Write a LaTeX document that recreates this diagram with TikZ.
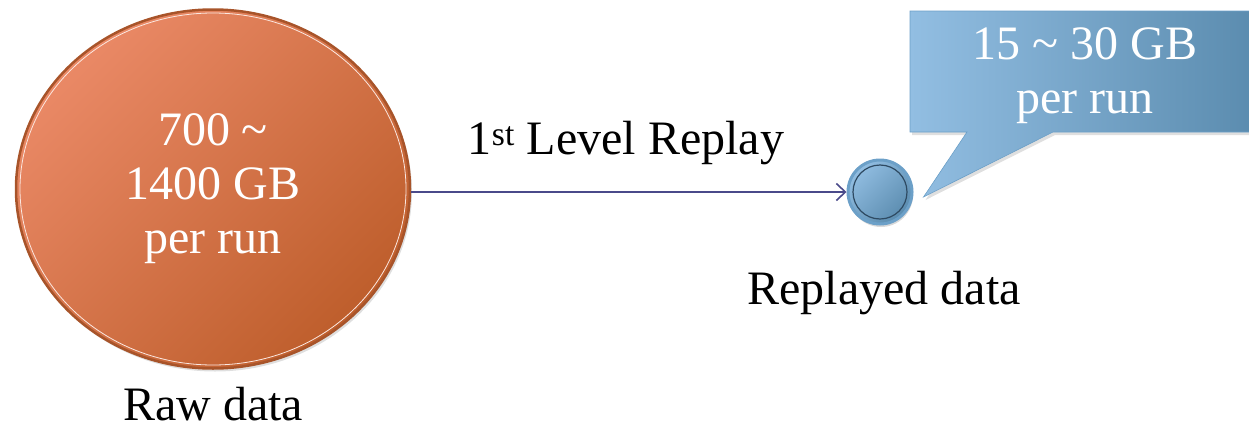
\documentclass[tikz,border=0pt]{standalone}
\usepackage{fontspec}
\setmainfont{Liberation Serif}
\usetikzlibrary{arrows.meta,shapes.geometric,calc,shadows}
\definecolor{orlight}{HTML}{EA8966}
\definecolor{ordark}{HTML}{BE5E2C}
\definecolor{orrim}{HTML}{A8542A}
\definecolor{bllight}{HTML}{92BEE2}
\definecolor{bldark}{HTML}{5A8BAE}
\definecolor{blrim}{HTML}{6CA0C8}
\definecolor{blring}{HTML}{2E4A62}
\definecolor{arrowcol}{HTML}{4A4A8A}
\tikzset{
  bigtext/.style={font=\fontsize{48}{54}\selectfont, align=center},
  arrowc/.style={draw=arrowcol, line width=1.6pt, -{Straight Barb[length=9pt,width=17pt,line width=1.6pt]}},
}
\begin{document}
\begin{tikzpicture}[x=1pt,y=-1pt]
\useasboundingbox (0,0) rectangle (1249,431);
% raw data ellipse
\node[ellipse, minimum width=394pt, minimum height=359pt, inner sep=0pt,
      draw=orrim, line width=2.5pt, top color=orlight, bottom color=ordark,
      shading angle=45, drop shadow={opacity=0.25,shadow xshift=2pt,shadow yshift=-3pt},
      bigtext, text=white] (raw) at (213,189) {700 \textasciitilde\\1400 GB\\per run};
\draw[white!80!orlight, line width=0.8pt] (raw.center) ellipse [x radius=193pt, y radius=176pt];
% replayed data circle
\node[circle, minimum size=64pt, inner sep=0pt, draw=blrim, line width=3pt,
      top color=bllight, bottom color=bldark, shading angle=45,
      drop shadow={opacity=0.3,shadow xshift=1pt,shadow yshift=-3pt}] (rep) at (880,192) {};
\draw[blring, line width=1.2pt] (rep.center) circle [radius=27pt];
% callout
\coordinate (tip) at ($(rep.east)+(10,5)$);
\path[left color=bllight, right color=bldark, draw=blrim, line width=0.6pt,
      drop shadow={opacity=0.25,shadow xshift=2pt,shadow yshift=-3pt}]
  (910,11) -- (1260,11) -- (1260,132) -- (1053,132) -- (tip) -- (967,132) -- (910,132) -- cycle;
\node[bigtext, text=white] (callout) at (1085,76) {15 \textasciitilde\ 30 GB\\per run};
% arrow
\draw[arrowc] (rep.west -| raw.east) -- (rep.west);
% labels
\node[bigtext, text=black] (lvl) at (626,143) {1\textsuperscript{st} Level Replay};
\node[bigtext, text=black] (replab) at (884,293) {Replayed data};
\node[bigtext, text=black] (rawlab) at (213,404) {Raw data};
\end{tikzpicture}
\end{document}
